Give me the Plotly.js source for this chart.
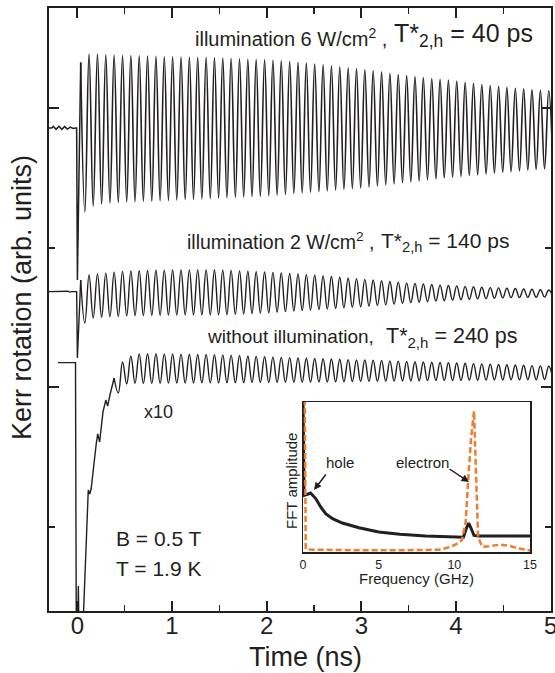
<!DOCTYPE html>
<html>
<head>
<meta charset="utf-8">
<script src="https://cdn.plot.ly/plotly-3.0.1.min.js"></script>
<style>html,body{margin:0;padding:0;background:#fff;}#plot{width:555px;height:673px;}</style>
</head>
<body>
<div id="plot"></div>
<script>
// Times (ns) of successive maxima/minima of the precession signal
const tExt = [0.035,0.079,0.123,0.167,0.212,0.256,0.300,0.344,0.388,0.432,
0.477,0.521,0.565,0.609,0.653,0.697,0.741,0.786,0.830,0.874,
0.918,0.962,1.006,1.050,1.095,1.139,1.183,1.227,1.271,1.315,
1.360,1.404,1.448,1.492,1.536,1.580,1.624,1.669,1.713,1.757,
1.801,1.845,1.889,1.933,1.978,2.022,2.066,2.110,2.154,2.198,
2.243,2.287,2.331,2.375,2.419,2.463,2.507,2.552,2.596,2.640,
2.684,2.728,2.772,2.816,2.861,2.905,2.949,2.993,3.037,3.081,
3.125,3.170,3.214,3.258,3.302,3.346,3.390,3.435,3.479,3.523,
3.567,3.611,3.655,3.699,3.744,3.788,3.832,3.876,3.920,3.964,
4.008,4.053,4.097,4.141,4.185,4.229,4.273,4.318,4.362,4.406,
4.450,4.494,4.538,4.582,4.627,4.671,4.715,4.759,4.803,4.847,
4.892,4.936,4.980,5.024];

// illumination 6 W/cm2 : values at tExt
const kerr6 = [3.33,2.258,3.39,2.30,3.39,2.315,3.385,2.322,3.383,2.326,
3.38,2.33,3.379,2.332,3.377,2.334,3.375,2.336,3.373,2.338,
3.371,2.341,3.37,2.344,3.368,2.347,3.367,2.349,3.365,2.352,
3.364,2.355,3.363,2.358,3.361,2.36,3.358,2.363,3.356,2.366,
3.353,2.368,3.351,2.371,3.348,2.374,3.345,2.379,3.341,2.384,
3.336,2.39,3.331,2.394,3.325,2.399,3.319,2.404,3.313,2.409,
3.306,2.414,3.299,2.419,3.292,2.425,3.286,2.43,3.279,2.437,
3.271,2.444,3.262,2.452,3.252,2.459,3.243,2.467,3.235,2.474,
3.228,2.481,3.222,2.488,3.215,2.495,3.209,2.502,3.203,2.508,
3.196,2.513,3.188,2.519,3.18,2.524,3.172,2.53,3.165,2.536,
3.158,2.542,3.151,2.548,3.145,2.553,3.14,2.558,3.135,2.563,
3.13,2.568,3.126,2.573];
const tPre6 = [-0.3,-0.27,-0.255,-0.225,-0.195,-0.165,-0.135,-0.105,-0.075,-0.045,-0.02,-0.008,0.0];
const yPre6 = [2.86,2.86,2.872,2.85,2.872,2.85,2.87,2.852,2.866,2.856,2.86,2.86,1.771];

// illumination 2 W/cm2 : values at tExt
const kerr2 = [1.771,1.462,1.806,1.498,1.814,1.504,1.82,1.507,1.826,1.51,
1.832,1.513,1.835,1.515,1.837,1.516,1.839,1.517,1.84,1.518,
1.841,1.519,1.842,1.52,1.842,1.52,1.843,1.52,1.843,1.52,
1.842,1.52,1.842,1.521,1.841,1.522,1.839,1.524,1.836,1.527,
1.833,1.53,1.83,1.533,1.828,1.536,1.825,1.54,1.821,1.544,
1.817,1.548,1.813,1.552,1.809,1.555,1.805,1.559,1.8,1.563,
1.795,1.567,1.79,1.571,1.785,1.575,1.78,1.578,1.775,1.582,
1.77,1.587,1.765,1.592,1.76,1.597,1.755,1.602,1.75,1.607,
1.746,1.611,1.742,1.615,1.738,1.619,1.734,1.622,1.731,1.626,
1.728,1.629,1.725,1.632,1.722,1.635,1.719,1.637,1.716,1.64,
1.714,1.642,1.711,1.644,1.709,1.645,1.706,1.646,1.704,1.647,
1.701,1.648,1.699,1.649];
const tPre2 = [-0.3,-0.15,-0.1,-0.08,-0.06,-0.008,0.0];
const yPre2 = [1.687,1.687,1.69,1.684,1.687,1.687,1.211];

// without illumination (x10) : values at tExt from index 8 on
const kerr0 = [1.068,0.961,1.183,1.025,1.226,1.03,1.24,1.029,1.242,1.029,
1.242,1.03,1.241,1.031,1.24,1.032,1.239,1.032,1.238,1.032,
1.237,1.033,1.236,1.033,1.235,1.033,1.234,1.033,1.232,1.034,
1.229,1.034,1.226,1.035,1.223,1.035,1.22,1.036,1.218,1.036,
1.216,1.037,1.214,1.037,1.212,1.038,1.21,1.038,1.208,1.039,
1.206,1.039,1.204,1.04,1.202,1.041,1.2,1.042,1.198,1.043,
1.197,1.043,1.195,1.044,1.193,1.045,1.191,1.046,1.189,1.047,
1.187,1.047,1.185,1.048,1.183,1.049,1.181,1.05,1.179,1.05,
1.177,1.05,1.176,1.051,1.174,1.052,1.171,1.052,1.169,1.053,
1.167,1.054,1.165,1.054,1.163,1.055,1.161,1.055,1.159,1.056,
1.157,1.056,1.155,1.057,1.152,1.057];
const tPre0 = [-0.205,-0.02,-0.012,0.005,0.01,0.016,0.06,0.115,0.13,0.145,0.2,0.215,0.235,0.27,0.3,0.32,0.344];
const yPre0 = [1.178,1.178,-0.7,-0.7,-0.423,-0.7,-0.7,0.265,0.237,0.272,0.602,0.667,0.609,0.824,0.91,0.867,0.946];

// Inset: FFT spectra
const fBlack = [0,0.07,0.3,0.5,0.84,1.17,1.5,1.95,2.6,3.7,5.0,6.4,8.1,9.5,10.35,10.6,10.8,10.95,11.1,11.3,11.6,12,13,14,15];
const aBlack = [1.02,0.378,0.385,0.393,0.356,0.3,0.256,0.222,0.193,0.162,0.133,0.118,0.107,0.1,0.1,0.098,0.16,0.193,0.16,0.11,0.106,0.106,0.106,0.106,0.106];
const fOrange = [0.12,0.18,0.5,2,4,6,8,9,9.6,10.1,10.5,10.75,10.9,11.1,11.3,11.46,11.57,11.85,12.3,13.0,13.6,14.2,15];
const aOrange = [1.02,0.02,0.016,0.013,0.011,0.011,0.011,0.015,0.03,0.05,0.08,0.2,0.456,0.75,0.94,0.478,0.1,0.035,0.038,0.049,0.042,0.025,0.01];

const xTicks = [0,1,2,3,4,5];
const fTicks = [0,5,10,15];

const FONT = 'Liberation Sans, Arial, Helvetica, sans-serif';
const INK = '#231f20';

const lin = w => ({color: INK, width: w, shape: 'linear'});
const spl = w => ({color: INK, width: w, shape: 'spline', smoothing: 1.2});
const base = {type: 'scatter', mode: 'lines', xaxis: 'x', yaxis: 'y', hoverinfo: 'skip'};
const traces = [
  // pre-pulse part and pump-pulse transient (straight segments), then the precession (smooth)
  Object.assign({}, base, {x: tPre6.concat([tExt[0]]), y: yPre6.concat([kerr6[0]]), line: lin(1.5)}),
  Object.assign({}, base, {x: tExt, y: kerr6, line: spl(1.6)}),
  Object.assign({}, base, {x: tPre2.concat([tExt[0]]), y: yPre2.concat([kerr2[0]]), line: lin(1.4)}),
  Object.assign({}, base, {x: tExt, y: kerr2, line: spl(1.4)}),
  Object.assign({}, base, {x: tPre0.concat([tExt[8]]), y: yPre0.concat([kerr0[0]]), line: lin(1.4)}),
  Object.assign({}, base, {x: tExt.slice(8), y: kerr0, line: spl(1.4)}),
  {x: fBlack, y: aBlack, type: 'scatter', mode: 'lines', line: {color: INK, width: 3}, xaxis: 'x2', yaxis: 'y2', hoverinfo: 'skip'},
  {x: fOrange, y: aOrange, type: 'scatter', mode: 'lines', line: {color: '#ee7d2f', width: 2.5, dash: '6px,3px'}, xaxis: 'x2', yaxis: 'y2', hoverinfo: 'skip'}
];

const PL = 49, PR = 551, PT = 8, PB = 611;
const px = v => (v - PL) / (PR - PL);
const py = v => (PB - v) / (PB - PT);
const A = (text, x, y, size, opts) => Object.assign({text: text, x: px(x), y: py(y), xref: 'paper', yref: 'paper', showarrow: false, font: {size: size, color: INK}, xanchor: 'left', yanchor: 'middle'}, opts || {});

const ann = [
  A('Kerr rotation (arb. units)', 22, 298, 27, {textangle: -90, xanchor: 'center'}),
  A('Time (ns)', 305, 657, 27, {xanchor: 'center'}),
  A('illumination 6 W/cm<sup>2</sup> ,', 193, 37, 20),
  A('T*<sub>2,h</sub> = 40 ps', 392, 35, 25),
  A('illumination 2 W/cm<sup>2</sup> ,', 185, 241, 19.5),
  A('T*<sub>2,h</sub> = 140 ps', 379, 242, 21),
  A('without illumination,', 205, 336, 19),
  A('T*<sub>2,h</sub> = 240 ps', 384, 337, 21.5),
  A('x10', 158, 412, 18, {xanchor: 'center'}),
  A('B = 0.5 T', 114, 538, 21),
  A('T = 1.9 K', 114, 568, 21),
  A('FFT amplitude', 291, 481, 15, {textangle: -90, xanchor: 'center'}),
  A('Frequency (GHz)', 416, 578, 15, {xanchor: 'center'}),
  A('hole', 340, 462, 15, {xanchor: 'center'}),
  A('electron', 422, 462, 15, {xanchor: 'center'}),
  {text: '', x: px(314), y: py(490), xref: 'paper', yref: 'paper', showarrow: true, ax: 13, ay: -17, arrowhead: 2, arrowsize: 1, arrowwidth: 1.5, arrowcolor: INK},
  {text: '', x: px(469), y: py(482), xref: 'paper', yref: 'paper', showarrow: true, ax: -21, ay: -14, arrowhead: 2, arrowsize: 1, arrowwidth: 1.5, arrowcolor: INK}
];

const layout = {
  width: 555, height: 673,
  margin: {l: PL, r: 555 - PR, t: PT, b: 673 - PB, pad: 0},
  paper_bgcolor: '#fff', plot_bgcolor: '#fff',
  showlegend: false,
  font: {family: FONT, color: INK},
  xaxis: {
    range: [-0.3, 5.004], tickvals: xTicks, ticktext: xTicks.map(String),
    ticks: 'inside', ticklen: 10, tickwidth: 2, tickcolor: INK,
    minor: {dtick: 0.5, tick0: 0, ticks: 'inside', ticklen: 6, tickwidth: 1.5, tickcolor: INK},
    showline: true, linewidth: 2, linecolor: INK, mirror: 'allticks',
    showgrid: false, zeroline: false, tickfont: {size: 24, color: INK},
    ticklabelstandoff: -8, ticklabeloverflow: 'allow'
  },
  yaxis: {
    range: [-0.602, 3.72], tick0: 1, dtick: 2,
    ticks: 'inside', ticklen: 10, tickwidth: 2, tickcolor: INK,
    minor: {dtick: 1, tick0: 0, ticks: 'inside', ticklen: 6, tickwidth: 1.5, tickcolor: INK},
    showticklabels: false,
    showline: true, linewidth: 2, linecolor: INK, mirror: 'allticks',
    showgrid: false, zeroline: false
  },
  xaxis2: {
    anchor: 'y2', domain: [px(303), px(530)], range: [0, 15],
    tickvals: fTicks, ticktext: fTicks.map(String), ticks: '',
    showline: true, linewidth: 1.5, linecolor: INK, mirror: true,
    showgrid: false, zeroline: false, tickfont: {size: 12.5, color: INK}
  },
  yaxis2: {
    anchor: 'x2', domain: [py(552), py(402)], range: [0, 1],
    showticklabels: false, ticks: '',
    showline: true, linewidth: 1.5, linecolor: INK, mirror: true,
    showgrid: false, zeroline: false
  },
  annotations: ann
};

Plotly.newPlot('plot', traces, layout, {staticPlot: true, displayModeBar: false});
</script>
</body>
</html>
